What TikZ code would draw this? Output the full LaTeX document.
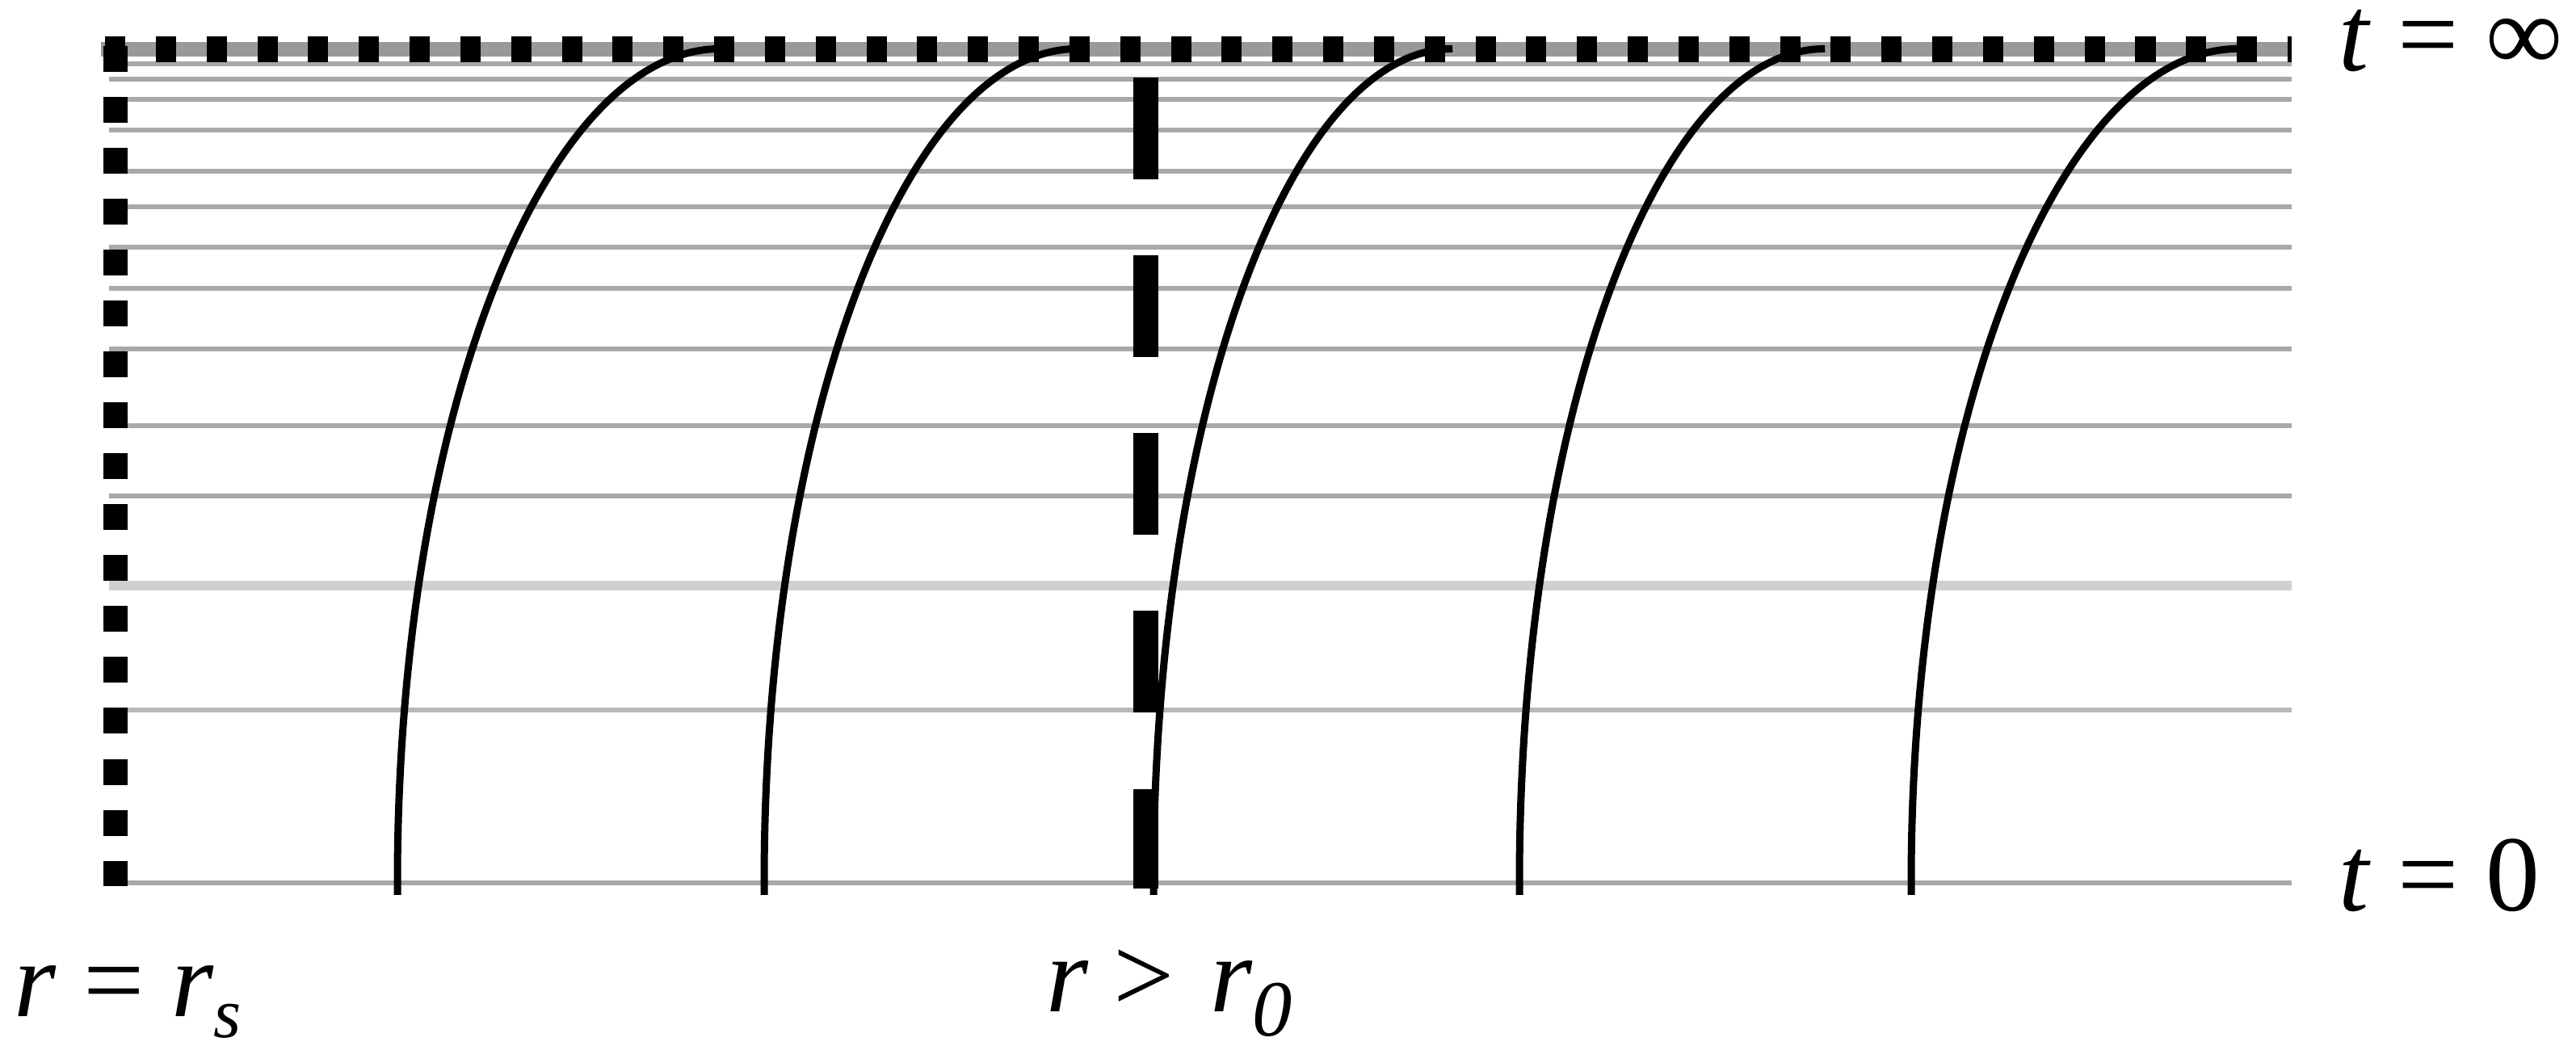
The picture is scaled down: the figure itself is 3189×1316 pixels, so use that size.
\documentclass[tikz,border=0pt]{standalone}
\usepackage{fontspec}
\setmainfont{Liberation Serif}
\definecolor{gridgray}{HTML}{A8A8A8}
\definecolor{lightgrid}{HTML}{D0D0D0}
\definecolor{midgrid}{HTML}{B8B8B8}
\definecolor{topgray}{HTML}{999999}
\begin{document}
\begin{tikzpicture}[x=0.01cm,y=-0.01cm,
  gridline/.style={draw=gridgray, line width=0.06cm},
  worldline/.style={draw=black, line width=0.09cm},
  lbl/.style={anchor=base west, inner sep=0pt, font=\fontsize{38}{44}\selectfont},
  dotrow/.style={draw=black, line width=0.32cm, dash pattern=on 0.25cm off 0.378cm},
  dotcol/.style={draw=black, line width=0.30cm, dash pattern=on 0.32cm off 0.31cm},
  bigdash/.style={draw=black, line width=0.31cm, dash pattern=on 1.26cm off 0.94cm},
]
\useasboundingbox (0,0) rectangle (3189,1316);

% time slices
\foreach \yy in {79,98,123,161,212,256,306,357,432,527,614,1093}
  \draw[gridline] (135,\yy) -- (2837,\yy);
\draw[draw=midgrid, line width=0.06cm] (135,879) -- (2837,879);
\draw[draw=lightgrid, line width=0.12cm] (135,725) -- (2837,725);

% t = infinity line
\draw[draw=topgray, line width=0.18cm] (125,61) -- (2837,61);
\draw[dotrow] (130,61) -- (2837,61);

% r = r_s line
\draw[dotcol] (143,57) -- (143,1097);

% r = r_0 line
\draw[bigdash] (1418,96) -- (1418,1100);

% world lines
\foreach \xo/\a in {492/4.00, 946/3.88, 1428/3.70, 1881/3.78, 2366/4.05}
  \draw[worldline] (\xo,1108) -- (\xo,1093)
     arc[start angle=180, end angle=90, x radius=\a cm, y radius=10.32cm];

% labels
\node[lbl] (tinf) at (2895,88) {\textit{t} = ∞};
\node[lbl] (tzero) at (2895,1128) {\textit{t} = 0};
\node[lbl] (rs) at (17,1258) {\textit{r} = \textit{r}\raisebox{-0.2em}{\fontsize{25}{25}\selectfont\textit{s}}};
\node[lbl] (rzero) at (1295,1253) {\textit{r}\kern 0.3cm>\kern 0.45cm\textit{r}\raisebox{-0.22em}{\fontsize{28}{28}\selectfont\textit{0}}};
\end{tikzpicture}
\end{document}
